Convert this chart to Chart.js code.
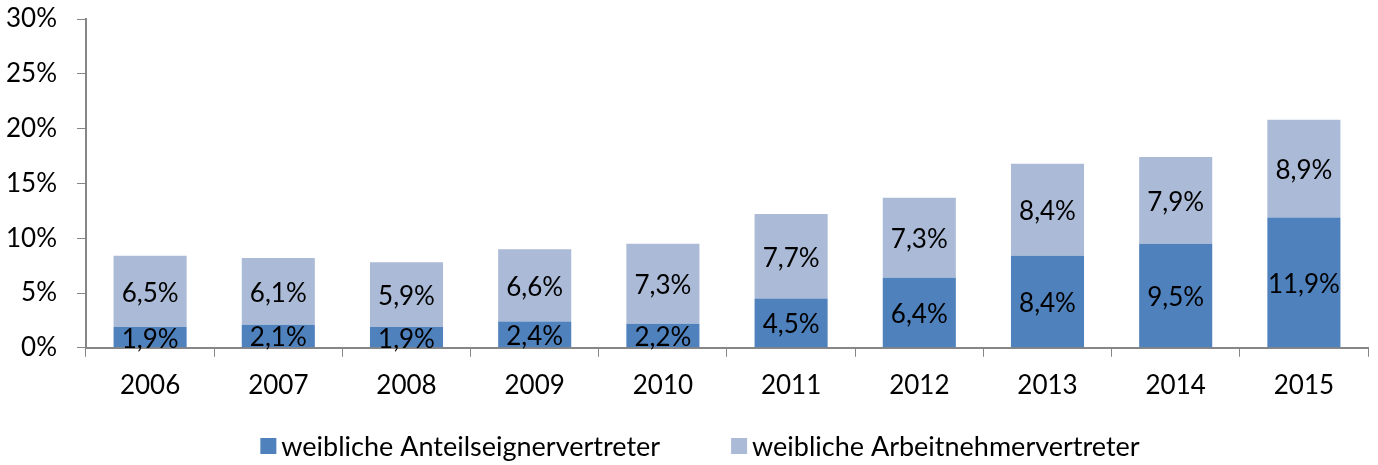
<!DOCTYPE html>
<html>
<head>
<meta charset="utf-8">
<script src="https://cdn.jsdelivr.net/npm/chart.js@4"></script>
<style>
  html, body { margin: 0; padding: 0; background: #ffffff; }
  #wrap { width: 1378px; height: 465px; }
</style>
</head>
<body>
<div id="wrap"><canvas id="c" width="1378" height="465"></canvas></div>
<script>
const years = ["2006","2007","2008","2009","2010","2011","2012","2013","2014","2015"];
const anteilseigner = [1.9, 2.1, 1.9, 2.4, 2.2, 4.5, 6.4, 8.4, 9.5, 11.9];
const arbeitnehmer = [6.5, 6.1, 5.9, 6.6, 7.3, 7.7, 7.3, 8.4, 7.9, 8.9];
const seriesNames = ["weibliche Anteilseignervertreter", "weibliche Arbeitnehmervertreter"];
const yMax = 30;
const yStep = 5;

const FONT = "Lato";
const FS = 26;
const fmt = v => v.toFixed(1).replace('.', ',') + '%';

const labelPlugin = {
  id: 'segLabels',
  afterDatasetsDraw(chart) {
    const ctx = chart.ctx;
    ctx.save();
    ctx.font = FS + 'px ' + FONT;
    ctx.fillStyle = '#000000';
    ctx.textAlign = 'center';
    ctx.textBaseline = 'middle';
    chart.data.datasets.forEach((ds, di) => {
      const meta = chart.getDatasetMeta(di);
      meta.data.forEach((el, i) => {
        const p = el.getProps(['x', 'y', 'base'], true);
        ctx.fillText(fmt(ds.data[i]), p.x, (p.y + p.base) / 2 + 2);
      });
    });
    ctx.restore();
  }
};

const legendPlugin = {
  id: 'bottomLegend',
  afterDraw(chart) {
    const ctx = chart.ctx;
    ctx.save();
    ctx.font = '27px ' + FONT;
    ctx.textBaseline = 'middle';
    ctx.textAlign = 'left';
    const box = 16, gapText = 5, gapItem = 71;
    const items = chart.data.datasets.map(ds => ({ text: ds.label, color: ds.backgroundColor, w: ctx.measureText(ds.label).width }));
    let total = 0;
    items.forEach((it, i) => { total += box + gapText + it.w + (i ? gapItem : 0); });
    let x = 700 - total / 2;
    const cy = 446;
    items.forEach((it) => {
      ctx.fillStyle = it.color;
      ctx.fillRect(x, cy - box / 2, box, box);
      ctx.fillStyle = '#000000';
      ctx.fillText(it.text, x + box + gapText, cy + 1);
      x += box + gapText + it.w + gapItem;
    });
    ctx.restore();
  }
};

new Chart(document.getElementById('c'), {
  type: 'bar',
  data: {
    labels: years,
    datasets: [
      { label: seriesNames[0], data: anteilseigner, backgroundColor: '#4F81BD', borderWidth: 0 },
      { label: seriesNames[1], data: arbeitnehmer, backgroundColor: '#AABAD7', borderWidth: 0 }
    ]
  },
  options: {
    responsive: false,
    animation: false,
    devicePixelRatio: 1,
    layout: { padding: { left: -14, right: 10, top: 19, bottom: 51 } },
    datasets: { bar: { categoryPercentage: 1.0, barPercentage: 0.57 } },
    plugins: {
      legend: { display: false },
      tooltip: { enabled: false }
    },
    scales: {
      x: {
        stacked: true,
        grid: { display: true, drawOnChartArea: false, drawTicks: true, tickLength: 9, color: '#868686', offset: true },
        border: { display: true, color: '#868686', width: 2 },
        ticks: { font: { family: FONT, size: FS }, color: '#000000', padding: 13 }
      },
      y: {
        stacked: true,
        min: 0,
        max: yMax,
        afterFit: (s) => { s.paddingTop = 0; },
        grid: { display: true, drawOnChartArea: false, drawTicks: true, tickLength: 9, color: '#868686' },
        border: { display: true, color: '#868686', width: 2 },
        ticks: { stepSize: yStep, font: { family: FONT, size: FS }, color: '#000000', padding: 20, callback: v => v + '%' }
      }
    }
  },
  plugins: [labelPlugin, legendPlugin]
});
</script>
</body>
</html>
